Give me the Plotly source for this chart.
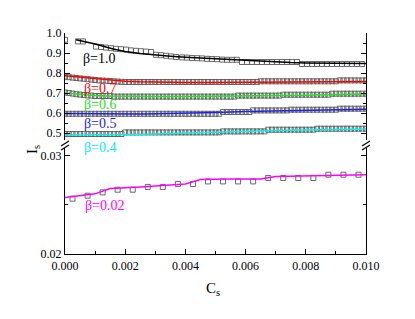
import plotly.graph_objects as go

# ---------------- data ----------------
# beta = 1.0 squares
CS_B10 = [0.0, 0.00043, 0.00060,
          0.00103, 0.00120, 0.00136, 0.00153, 0.00169, 0.00186, 0.00203,
          0.00219, 0.00236, 0.00252, 0.00269, 0.00286,
          0.00302, 0.00319, 0.00336, 0.00352, 0.00369,
          0.00389, 0.00405, 0.00422, 0.00439, 0.00455, 0.00472, 0.00488, 0.00505,
          0.00522, 0.00538, 0.00555, 0.00571,
          0.00588, 0.00605, 0.00621, 0.00638, 0.00654, 0.00671, 0.00688, 0.00704,
          0.00721, 0.00738, 0.00754, 0.00771,
          0.00787, 0.00804, 0.00821, 0.00837, 0.00854, 0.00870, 0.00887, 0.00904,
          0.00920, 0.00937, 0.00953, 0.00970, 0.00987]
IS_B10 = [0.966, 0.958, 0.958,
          0.932, 0.930, 0.927, 0.924, 0.921, 0.919, 0.917,
          0.913, 0.911, 0.909, 0.907, 0.905,
          0.891, 0.889, 0.886, 0.883, 0.880,
          0.878, 0.877, 0.875, 0.874, 0.873, 0.871, 0.870, 0.869,
          0.867, 0.866, 0.866, 0.866,
          0.855, 0.855, 0.855, 0.855, 0.855, 0.855, 0.855, 0.855,
          0.855, 0.855, 0.855, 0.855,
          0.845, 0.845, 0.845, 0.845, 0.845, 0.845, 0.845, 0.845,
          0.845, 0.845, 0.845, 0.845, 0.845]
CS_B10_LINE = [0.00037, 0.001, 0.0016, 0.002, 0.0025, 0.003, 0.0035, 0.004, 0.0045,
               0.005, 0.0055, 0.006, 0.0065, 0.007, 0.0075, 0.008, 0.009, 0.010]
IS_B10_LINE = [0.966, 0.945, 0.920, 0.907, 0.897, 0.889, 0.884, 0.879, 0.875,
               0.870, 0.866, 0.862, 0.858, 0.855, 0.852, 0.850, 0.849, 0.848]

# dense square series (beta = 0.7, 0.6, 0.5, 0.4) share one Cs grid
CS_DENSE = [0.0, 0.000125, 0.00025, 0.000375, 0.0005, 0.000625, 0.00075, 0.000875,
            0.001, 0.001125, 0.00125, 0.001375, 0.0015, 0.001625, 0.00175, 0.001875,
            0.002, 0.002125, 0.00225, 0.002375, 0.0025, 0.002625, 0.00275, 0.002875,
            0.003, 0.003125, 0.00325, 0.003375, 0.0035, 0.003625, 0.00375, 0.003875,
            0.004, 0.004125, 0.00425, 0.004375, 0.0045, 0.004625, 0.00475, 0.004875,
            0.005, 0.005125, 0.00525, 0.005375, 0.0055, 0.005625, 0.00575, 0.005875,
            0.006, 0.006125, 0.00625, 0.006375, 0.0065, 0.006625, 0.00675, 0.006875,
            0.007, 0.007125, 0.00725, 0.007375, 0.0075, 0.007625, 0.00775, 0.007875,
            0.008, 0.008125, 0.00825, 0.008375, 0.0085, 0.008625, 0.00875, 0.008875,
            0.009, 0.009125, 0.00925, 0.009375, 0.0095, 0.009625, 0.00975, 0.009875,
            0.010]
IS_B07 = ([0.781, 0.779, 0.777, 0.775, 0.773, 0.771, 0.769, 0.767, 0.765, 0.763,
           0.762, 0.761, 0.760, 0.758, 0.757, 0.756]
          + [0.755] * 36 + [0.7585] * 21 + [0.763] * 8)
IS_B06 = ([0.703, 0.700, 0.697, 0.694, 0.692, 0.690, 0.688, 0.687]
          + [0.685] * 5 + [0.682] * 33 + [0.687] * 12 + [0.6915] * 13 + [0.6965] * 10)
IS_B05 = [0.596] * 42 + [0.605] * 8 + [0.613] * 10 + [0.6165] * 13 + [0.6215] * 8
IS_B04 = [0.495] * 16 + [0.503] * 26 + [0.508] * 12 + [0.5165] * 13 + [0.5215] * 14

CS_LINE = [0.0, 0.0005, 0.001, 0.0015, 0.002, 0.0025, 0.003, 0.004, 0.005,
           0.006, 0.007, 0.008, 0.009, 0.010]
IS_B07_LINE = [0.786, 0.779, 0.771, 0.764, 0.759, 0.756, 0.754, 0.753, 0.753,
               0.754, 0.755, 0.756, 0.757, 0.758]
IS_B06_LINE = [0.700, 0.693, 0.688, 0.685, 0.683, 0.682, 0.682, 0.682, 0.683,
               0.685, 0.687, 0.689, 0.692, 0.695]
IS_B05_LINE = [0.598, 0.597, 0.596, 0.596, 0.595, 0.595, 0.596, 0.598, 0.603,
               0.607, 0.610, 0.613, 0.616, 0.619]
IS_B04_LINE = [0.490, 0.490, 0.490, 0.491, 0.492, 0.493, 0.495, 0.500, 0.504,
               0.508, 0.512, 0.515, 0.518, 0.520]

# beta = 0.02 (lower panel)
CS_B002 = [0.00025, 0.00075, 0.00125, 0.00175, 0.00225, 0.00275, 0.00325, 0.00375,
           0.00425, 0.00475, 0.00525, 0.00575, 0.00625, 0.00675, 0.00725, 0.00775,
           0.00825, 0.00875, 0.00925, 0.00975]
IS_B002 = [0.02561, 0.02591, 0.02625, 0.02652, 0.02652, 0.02680, 0.02680, 0.02710,
           0.02710, 0.02736, 0.02736, 0.02736, 0.02736, 0.02771, 0.02771, 0.02771,
           0.02771, 0.02804, 0.02804, 0.02804]
CS_B002_LINE = [0.0, 0.0005, 0.001, 0.0015, 0.002, 0.0025, 0.003, 0.0035, 0.004,
                0.0045, 0.005, 0.0055, 0.006, 0.0065, 0.007, 0.0075, 0.008, 0.0085,
                0.009, 0.0095, 0.010]
IS_B002_LINE = [0.02574, 0.02590, 0.02610, 0.02665, 0.02670, 0.02680, 0.02690,
                0.02700, 0.02710, 0.02755, 0.02761, 0.02761, 0.02761, 0.02761,
                0.02787, 0.02790, 0.02795, 0.02798, 0.02800, 0.02802, 0.02804]

LABELS = ["β=1.0", "β=0.7", "β=0.6", "β=0.5", "β=0.4", "β=0.02"]
X_TICKS = [0.000, 0.002, 0.004, 0.006, 0.008, 0.010]
Y_UP_TICKS = [0.5, 0.6, 0.7, 0.8, 0.9, 1.0]
Y_LO_TICKS = [0.02, 0.03]

# ---------------- styling ----------------
FONT = "Liberation Serif"
SQ_COLOR = "#5a5a5a"
COLORS = {"β=1.0": "#000000", "β=0.7": "#ff0000", "β=0.6": "#22e022",
          "β=0.5": "#2222ee", "β=0.4": "#00f0f0", "β=0.02": "#ff00ff"}

# the page body has an 8px margin; compensate so the plot lands where the reference is
OFF = 8
W, H = 415 - OFF, 319 - OFF
# target plot box in window pixels: left 65, right 366, top 33, bottom 254
LEFT, RIGHT, TOP, BOTTOM = 65, 366, 33, 254
ML, MR, MT, MB = LEFT - OFF, 415 - RIGHT, TOP - OFF, 319 - BOTTOM
PW, PH = RIGHT - LEFT, BOTTOM - TOP


def px(xp):
    return (xp - LEFT) / PW


def py(yp):
    return (BOTTOM - yp) / PH


fig = go.Figure()


def squares(x, y, axis):
    fig.add_trace(go.Scatter(x=x, y=y, mode="markers", xaxis="x", yaxis=axis,
                             marker=dict(symbol="square-open", size=5,
                                         color=SQ_COLOR, line=dict(width=0.9, color=SQ_COLOR)),
                             showlegend=False, hoverinfo="skip"))


def line(x, y, axis, color):
    fig.add_trace(go.Scatter(x=x, y=y, mode="lines", xaxis="x", yaxis=axis,
                             line=dict(color=color, width=1.5),
                             showlegend=False, hoverinfo="skip"))


squares(CS_B10, IS_B10, "y2")
squares(CS_DENSE, IS_B07, "y2")
squares(CS_DENSE, IS_B06, "y2")
squares(CS_DENSE, IS_B05, "y2")
squares(CS_DENSE, IS_B04, "y2")
squares(CS_B002, IS_B002, "y")

line(CS_B10_LINE, IS_B10_LINE, "y2", COLORS["β=1.0"])
line(CS_LINE, IS_B07_LINE, "y2", COLORS["β=0.7"])
line(CS_LINE, IS_B06_LINE, "y2", COLORS["β=0.6"])
line(CS_LINE, IS_B05_LINE, "y2", COLORS["β=0.5"])
line(CS_LINE, IS_B04_LINE, "y2", COLORS["β=0.4"])
line(CS_B002_LINE, IS_B002_LINE, "y", COLORS["β=0.02"])

# upper / lower domain edges (pixels)
UP_BOTTOM_PX = 140
LO_TOP_PX = 148
up_dom = [py(UP_BOTTOM_PX), 1.0]
lo_dom = [0.0, py(LO_TOP_PX)]
UP_RANGE = [1.0 - (UP_BOTTOM_PX - TOP) / 200.0, 1.0]
LO_RANGE = [0.02, 0.02 + (BOTTOM - LO_TOP_PX) / 98.6 * 0.01]

axis_common = dict(showline=True, linecolor="black", linewidth=1.2,
                   ticks="inside", ticklen=5, tickwidth=1, tickcolor="black",
                   showgrid=False, zeroline=False,
                   tickfont=dict(family=FONT, size=12, color="black"))

fig.update_layout(
    width=W, height=H,
    margin=dict(l=ML, r=MR, t=MT, b=MB, pad=0),
    paper_bgcolor="white", plot_bgcolor="white",
    font=dict(family=FONT, color="black"),
    xaxis=dict(domain=[0, 1], range=[0, 0.010], anchor="y",
               tickvals=X_TICKS, ticktext=[f"{v:.3f}" for v in X_TICKS],
               minor=dict(dtick=0.001, ticks="inside", ticklen=3, tickcolor="black"),
               **axis_common),
    xaxis2=dict(domain=[0, 1], range=[0, 0.010], anchor="y2", side="top",
                overlaying="x", matches="x", showticklabels=False,
                tickvals=X_TICKS,
                minor=dict(dtick=0.001, ticks="inside", ticklen=3, tickcolor="black"),
                **axis_common),
    yaxis=dict(domain=lo_dom, range=LO_RANGE, anchor="x", mirror="ticks",
               tickvals=Y_LO_TICKS, ticktext=[f"{v:.2f}" for v in Y_LO_TICKS],
               minor=dict(dtick=0.005, tick0=0.02, ticks="inside", ticklen=3, tickcolor="black"),
               **axis_common),
    yaxis2=dict(domain=up_dom, range=UP_RANGE, anchor="x", mirror="ticks",
                tickvals=Y_UP_TICKS, ticktext=[f"{v:.1f}" for v in Y_UP_TICKS],
                minor=dict(dtick=0.05, tick0=0.5, ticks="inside", ticklen=3, tickcolor="black"),
                **axis_common),
)

# beta labels
label_pos = {"β=1.0": (99, 58), "β=0.7": (100, 88), "β=0.6": (100, 104),
             "β=0.5": (100, 123), "β=0.4": (100, 147), "β=0.02": (105, 205)}
for lab in LABELS:
    xp, yp = label_pos[lab]
    fig.add_annotation(x=px(xp), y=py(yp), xref="paper", yref="paper",
                       text=lab, showarrow=False, xanchor="center", yanchor="middle",
                       font=dict(family=FONT, size=14, color=COLORS[lab]))

# axis titles
fig.add_annotation(x=px(213), y=py(289), xref="paper", yref="paper",
                   text="C<sub>s</sub>", showarrow=False, yanchor="middle",
                   font=dict(family=FONT, size=15, color="black"))
fig.add_annotation(x=px(22), y=py(150), xref="paper", yref="paper",
                   text="I<sub>s</sub>", showarrow=False, textangle=-90,
                   font=dict(family=FONT, size=15, color="black"))

# axis break marks
for xc in (LEFT, RIGHT):
    for dy in (0, 4):
        fig.add_shape(type="line", xref="paper", yref="paper",
                      x0=px(xc - 4), y0=py(146 + dy), x1=px(xc + 4), y1=py(141 + dy),
                      line=dict(color="black", width=1.2))

fig.write_html("out.html")
